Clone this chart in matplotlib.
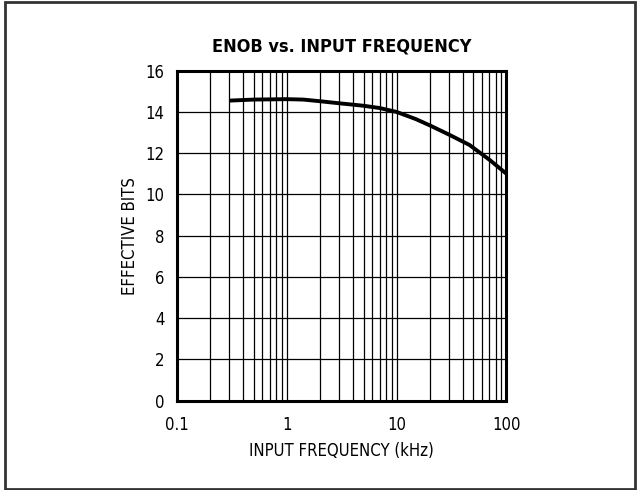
import matplotlib.pyplot as plt
from matplotlib.patches import Rectangle
import numpy as np

# ENOB curve
freq_khz = [0.30, 0.5, 1.0, 1.41, 2.0, 3.0, 5.0, 7.0, 10.0, 15.0, 20.0, 30.0, 46.0, 70.0, 100.0]
enob_bits = [14.55, 14.6, 14.62, 14.6, 14.52, 14.42, 14.3, 14.19, 14.0, 13.65, 13.35, 12.9, 12.4, 11.68, 11.0]

x_ticks = [0.1, 1, 10, 100]
x_ticklabels = ['0.1', '1', '10', '100']
y_ticks = list(range(0, 17, 2))

plt.rcParams['font.family'] = ['DejaVu Sans']
plt.rcParams['font.stretch'] = 'condensed'

fig = plt.figure(figsize=(6.37, 4.9), dpi=100)

# outer frame
fig.patches.append(Rectangle((5 / 637, 1 / 490), 630 / 637, 487 / 490,
                             transform=fig.transFigure, fill=False,
                             edgecolor='#333333', linewidth=2))

ax = fig.add_axes([177 / 637, (490 - 400.7) / 490, 329.5 / 637, 330 / 490])
ax.plot(freq_khz, enob_bits, color='black', linewidth=2.8, solid_capstyle='butt')

ax.set_xscale('log')
ax.set_xlim(0.1, 100)
ax.set_ylim(0, 16)
ax.set_xticks(x_ticks)
ax.set_xticklabels(x_ticklabels)
ax.set_yticks(y_ticks)
ax.grid(True, which='major', color='black', linewidth=0.9)
ax.grid(True, which='minor', axis='x', color='black', linewidth=0.9)
ax.tick_params(which='both', length=0, labelsize=12)
ax.tick_params(axis='x', pad=11)
ax.tick_params(axis='y', pad=9)
for s in ax.spines.values():
    s.set_linewidth(2.2)

ax.set_xlabel('INPUT FREQUENCY (kHz)', fontsize=12, labelpad=6)
ax.set_ylabel('EFFECTIVE BITS', fontsize=12, labelpad=5)
ax.set_title('ENOB vs. INPUT FREQUENCY', fontsize=13, fontweight='bold', pad=14)

fig.savefig('out.png', dpi=100)
